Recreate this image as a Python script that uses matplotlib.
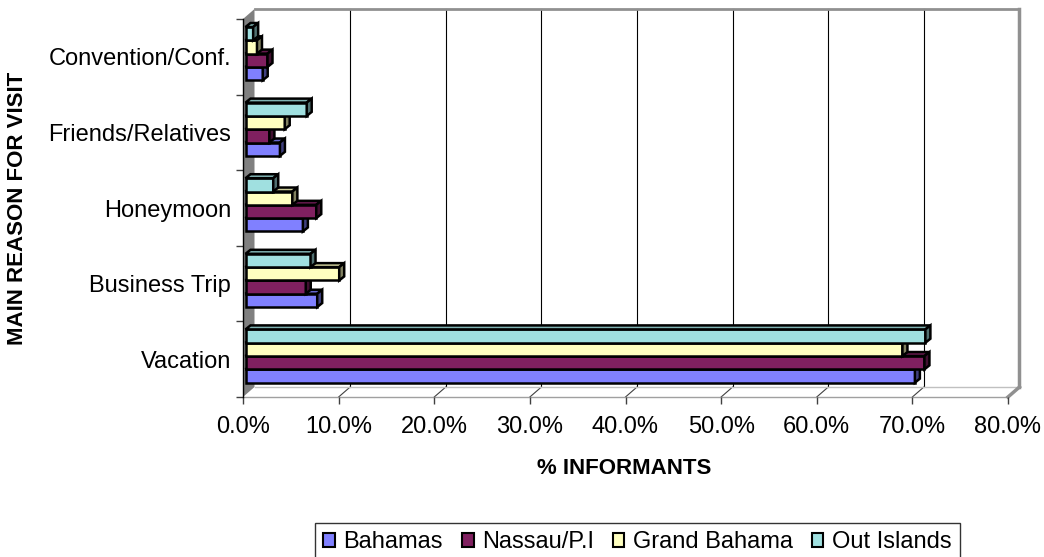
import matplotlib.pyplot as plt
from matplotlib.patches import Polygon, Patch

plt.rcParams['font.family'] = ['Liberation Sans', 'DejaVu Sans']

categories = ['Vacation', 'Business Trip', 'Honeymoon', 'Friends/Relatives', 'Convention/Conf.']
series_names = ['Bahamas', 'Nassau/P.I', 'Grand Bahama', 'Out Islands']
bahamas = [70.0, 7.5, 6.0, 3.6, 1.8]
nassau = [71.0, 6.3, 7.4, 2.5, 2.3]
grand_bahama = [68.7, 9.8, 4.9, 4.1, 1.2]
out_islands = [71.1, 6.8, 2.9, 6.4, 0.8]
xticks = [0, 10, 20, 30, 40, 50, 60, 70, 80]

front_colors = ['#8080ff', '#802060', '#ffffc0', '#a0e0e0']
top_colors = ['#6666cc', '#66194d', '#cccc99', '#80b3b3']
side_colors = ['#40407f', '#401030', '#808060', '#507070']

W, H = 1044, 557
fig = plt.figure(figsize=(W / 100, H / 100), dpi=100)

# front plane of the 3-D box, in pixels
x0_px, x1_px, y0_px, y1_px = 243, 1008, 397, 19
ax = fig.add_axes([x0_px / W, 1 - y0_px / H, (x1_px - x0_px) / W, (y0_px - y1_px) / H])
ax.set_xlim(0, 80)
ax.set_ylim(0, len(categories))
ax.patch.set_visible(False)

# pixel -> data units
PX = 80 / (x1_px - x0_px)
PY = len(categories) / (y0_px - y1_px)
DX, DY = 11.5 * PX, 10 * PY          # depth of the walls
BDX, BDY = 5 * PX, 4 * PY            # depth of each bar
SHIFT = 2.5 * PX                     # bars sit a little behind the front plane
top = len(categories)

# back wall, left wall and floor
ax.add_patch(Polygon([(DX, DY), (80 + DX, DY), (80 + DX, top + DY), (DX, top + DY)],
                     closed=True, facecolor='white', edgecolor='none', zorder=0, clip_on=False))
ax.add_patch(Polygon([(0, 0), (DX, DY), (DX, top + DY), (0, top)],
                     closed=True, facecolor='#808080', edgecolor='none', zorder=1, clip_on=False))
for v in xticks[1:-1]:
    ax.plot([v + DX, v + DX], [DY, top + DY], color='black', lw=0.8, zorder=1, clip_on=False)
for v in xticks[1:-1]:
    ax.plot([v, v + DX], [0, DY], color='#404040', lw=0.8, zorder=1, clip_on=False)
ax.plot([DX, 80 + DX], [DY, DY], color='#c0c0c0', lw=1, zorder=1, clip_on=False)
ax.plot([0, 80], [0, 0], color='#a0a0a0', lw=1, zorder=1, clip_on=False)
ax.plot([DX, 80 + DX], [top + DY, top + DY], color='#909090', lw=2, zorder=1, clip_on=False)
ax.plot([80 + DX, 80 + DX], [DY, top + DY], color='#909090', lw=2.5, zorder=1, clip_on=False)
ax.plot([80, 80 + DX], [0, DY], color='#909090', lw=2.5, zorder=1, clip_on=False)
ax.plot([0, 0], [0, top], color='black', lw=1, zorder=2, clip_on=False)

# 3-D bars, lower series first so the ones above cover their top faces
bar_h = 0.176
base = 0.19
all_series = [bahamas, nassau, grand_bahama, out_islands]
for k, values in enumerate(all_series):
    ys = [i + base + k * bar_h for i in range(len(categories))]
    z = 3 + k
    ax.barh(ys, values, height=bar_h, left=SHIFT, align='edge', color=front_colors[k],
            edgecolor='black', linewidth=1.8, zorder=z, clip_on=False)
    for y, v in zip(ys, values):
        xa, xb = SHIFT, SHIFT + v
        yb, yt = y, y + bar_h
        ax.add_patch(Polygon([(xa, yt), (xb, yt), (xb + BDX, yt + BDY), (xa + BDX, yt + BDY)],
                             closed=True, facecolor=top_colors[k], edgecolor='black',
                             linewidth=1.8, zorder=z, clip_on=False))
        ax.add_patch(Polygon([(xb, yb), (xb + BDX, yb + BDY), (xb + BDX, yt + BDY), (xb, yt)],
                             closed=True, facecolor=side_colors[k], edgecolor='black',
                             linewidth=1.8, zorder=z, clip_on=False))

for s in ax.spines.values():
    s.set_visible(False)

ax.set_xticks(xticks)
ax.set_xticklabels([f'{v:.1f}%' for v in xticks], fontsize=17)
ax.tick_params(axis='x', length=5, width=1, color='#404040', pad=9)
ax.set_yticks(range(len(categories) + 1))
ax.set_yticklabels([])
ax.tick_params(axis='y', which='major', length=5, width=1, color='#404040')
ax.set_yticks([i + 0.5 for i in range(len(categories))], minor=True)
ax.set_yticklabels(categories, minor=True, fontsize=17)
ax.tick_params(axis='y', which='minor', length=0, pad=8.5)

fig.text(624 / W, 1 - 468 / H, '% INFORMANTS', fontsize=16, fontweight='bold',
         ha='center', va='center')
fig.text(18 / W, 1 - 208 / H, 'MAIN REASON FOR VISIT', fontsize=16, fontweight='bold',
         ha='center', va='center', rotation=90)

handles = [Patch(facecolor=c, edgecolor='black', linewidth=1.5) for c in front_colors]
leg = fig.legend(handles, series_names, loc='upper left', bbox_to_anchor=(315 / W, 1 - 523 / H),
                 ncol=4, fontsize=17, frameon=True, fancybox=False, edgecolor='black',
                 handlelength=0.5, handleheight=0.5, handletextpad=0.35, columnspacing=0.8,
                 borderpad=0.35, borderaxespad=0)
leg.get_frame().set_linewidth(1)

fig.savefig('out.png', dpi=100)
